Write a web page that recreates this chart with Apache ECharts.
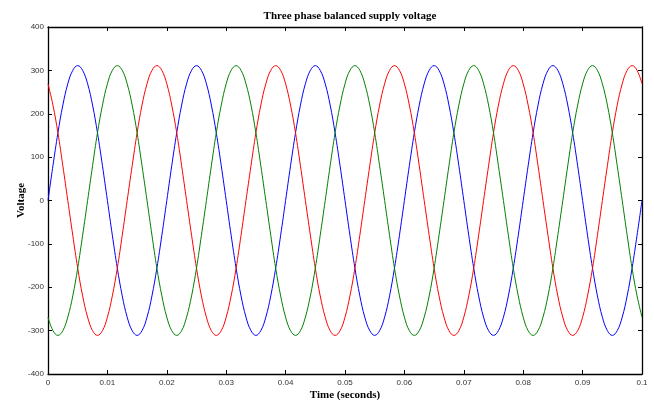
<!DOCTYPE html>
<html>
<head>
<meta charset="utf-8">
<script src="https://cdn.jsdelivr.net/npm/echarts@6/dist/echarts.min.js"></script>
<style>
  html, body { margin: 0; padding: 0; background: #fff; }
  #chart { width: 654px; height: 405px; }
</style>
</head>
<body>
<div id="chart"></div>
<script>
// sample times (s), one sample every 1/24 of a 50 Hz cycle
const time = [
  0, 0.00083, 0.00167, 0.0025, 0.00333, 0.00417, 0.005, 0.00583, 0.00667, 0.0075, 0.00833, 0.00917,
  0.01, 0.01083, 0.01167, 0.0125, 0.01333, 0.01417, 0.015, 0.01583, 0.01667, 0.0175, 0.01833, 0.01917,
  0.02, 0.02083, 0.02167, 0.0225, 0.02333, 0.02417, 0.025, 0.02583, 0.02667, 0.0275, 0.02833, 0.02917,
  0.03, 0.03083, 0.03167, 0.0325, 0.03333, 0.03417, 0.035, 0.03583, 0.03667, 0.0375, 0.03833, 0.03917,
  0.04, 0.04083, 0.04167, 0.0425, 0.04333, 0.04417, 0.045, 0.04583, 0.04667, 0.0475, 0.04833, 0.04917,
  0.05, 0.05083, 0.05167, 0.0525, 0.05333, 0.05417, 0.055, 0.05583, 0.05667, 0.0575, 0.05833, 0.05917,
  0.06, 0.06083, 0.06167, 0.0625, 0.06333, 0.06417, 0.065, 0.06583, 0.06667, 0.0675, 0.06833, 0.06917,
  0.07, 0.07083, 0.07167, 0.0725, 0.07333, 0.07417, 0.075, 0.07583, 0.07667, 0.0775, 0.07833, 0.07917,
  0.08, 0.08083, 0.08167, 0.0825, 0.08333, 0.08417, 0.085, 0.08583, 0.08667, 0.0875, 0.08833, 0.08917,
  0.09, 0.09083, 0.09167, 0.0925, 0.09333, 0.09417, 0.095, 0.09583, 0.09667, 0.0975, 0.09833, 0.09917,
  0.1
];

// voltages (one line per cycle)
const phaseBlue = [
  0, 80, 156, 220, 269, 300, 311, 300, 269, 220, 156, 80, 0, -80, -156, -220, -269, -300, -311, -300, -269, -220, -156, -80,
  0, 80, 156, 220, 269, 300, 311, 300, 269, 220, 156, 80, 0, -80, -156, -220, -269, -300, -311, -300, -269, -220, -156, -80,
  0, 80, 156, 220, 269, 300, 311, 300, 269, 220, 156, 80, 0, -80, -156, -220, -269, -300, -311, -300, -269, -220, -156, -80,
  0, 80, 156, 220, 269, 300, 311, 300, 269, 220, 156, 80, 0, -80, -156, -220, -269, -300, -311, -300, -269, -220, -156, -80,
  0, 80, 156, 220, 269, 300, 311, 300, 269, 220, 156, 80, 0, -80, -156, -220, -269, -300, -311, -300, -269, -220, -156, -80,
  0
];
const phaseRed = [
  269, 220, 156, 80, 0, -80, -156, -220, -269, -300, -311, -300, -269, -220, -156, -80, 0, 80, 156, 220, 269, 300, 311, 300,
  269, 220, 156, 80, 0, -80, -156, -220, -269, -300, -311, -300, -269, -220, -156, -80, 0, 80, 156, 220, 269, 300, 311, 300,
  269, 220, 156, 80, 0, -80, -156, -220, -269, -300, -311, -300, -269, -220, -156, -80, 0, 80, 156, 220, 269, 300, 311, 300,
  269, 220, 156, 80, 0, -80, -156, -220, -269, -300, -311, -300, -269, -220, -156, -80, 0, 80, 156, 220, 269, 300, 311, 300,
  269, 220, 156, 80, 0, -80, -156, -220, -269, -300, -311, -300, -269, -220, -156, -80, 0, 80, 156, 220, 269, 300, 311, 300,
  269
];
const phaseGreen = [
  -269, -300, -311, -300, -269, -220, -156, -80, 0, 80, 156, 220, 269, 300, 311, 300, 269, 220, 156, 80, 0, -80, -156, -220,
  -269, -300, -311, -300, -269, -220, -156, -80, 0, 80, 156, 220, 269, 300, 311, 300, 269, 220, 156, 80, 0, -80, -156, -220,
  -269, -300, -311, -300, -269, -220, -156, -80, 0, 80, 156, 220, 269, 300, 311, 300, 269, 220, 156, 80, 0, -80, -156, -220,
  -269, -300, -311, -300, -269, -220, -156, -80, 0, 80, 156, 220, 269, 300, 311, 300, 269, 220, 156, 80, 0, -80, -156, -220,
  -269, -300, -311, -300, -269, -220, -156, -80, 0, 80, 156, 220, 269, 300, 311, 300, 269, 220, 156, 80, 0, -80, -156, -220,
  -269
];

const pairs = (ys) => time.map((t, i) => [t, ys[i]]);

const labelStyle = { color: "#333", fontFamily: "Liberation Sans", fontSize: 8 };
const nameStyle = { color: "#000", fontFamily: "Liberation Serif", fontSize: 11, fontWeight: "bold" };
const lineStyle = { color: "#000", width: 1.3 };
const tick = { show: true, inside: true, length: 4, lineStyle: { color: "#000" } };

const chart = echarts.init(document.getElementById("chart"));

chart.setOption({
  animation: false,
  title: {
    text: "Three phase balanced supply voltage",
    left: 345,
    textAlign: "center",
    top: 6,
    textStyle: nameStyle
  },
  grid: { left: 48, right: 12, top: 27, bottom: 31, outerBoundsMode: "none" },
  xAxis: [
    {
      type: "value",
      min: 0,
      max: 0.1,
      interval: 0.01,
      name: "Time (seconds)",
      nameLocation: "middle",
      nameGap: 16,
      nameMoveOverlap: false,
      nameTextStyle: nameStyle,
      axisLine: { onZero: false, lineStyle },
      axisTick: tick,
      axisLabel: { ...labelStyle, margin: 5 },
      splitLine: { show: false }
    },
    {
      type: "value",
      position: "top",
      min: 0,
      max: 0.1,
      interval: 0.01,
      axisLine: { show: true, onZero: false, lineStyle },
      axisTick: tick,
      axisLabel: { show: false },
      splitLine: { show: false }
    }
  ],
  yAxis: [
    {
      type: "value",
      min: -400,
      max: 400,
      interval: 100,
      name: "Voltage",
      nameLocation: "middle",
      nameRotate: 90,
      nameGap: 21,
      nameMoveOverlap: false,
      nameTextStyle: nameStyle,
      axisLine: { show: true, onZero: false, lineStyle },
      axisTick: tick,
      axisLabel: { ...labelStyle, margin: 4 },
      splitLine: { show: false }
    },
    {
      type: "value",
      position: "right",
      min: -400,
      max: 400,
      interval: 100,
      axisLine: { show: true, onZero: false, lineStyle },
      axisTick: tick,
      axisLabel: { show: false },
      splitLine: { show: false }
    }
  ],
  series: [
    {
      name: "Phase A",
      type: "line",
      data: pairs(phaseBlue),
      smooth: 0.4,
      showSymbol: false,
      lineStyle: { color: "#0000ff", width: 1 },
      itemStyle: { color: "#0000ff" }
    },
    {
      name: "Phase B",
      type: "line",
      data: pairs(phaseRed),
      smooth: 0.4,
      showSymbol: false,
      lineStyle: { color: "#ff0000", width: 1 },
      itemStyle: { color: "#ff0000" }
    },
    {
      name: "Phase C",
      type: "line",
      data: pairs(phaseGreen),
      smooth: 0.4,
      showSymbol: false,
      lineStyle: { color: "#008000", width: 1 },
      itemStyle: { color: "#008000" }
    }
  ]
});
</script>
</body>
</html>
